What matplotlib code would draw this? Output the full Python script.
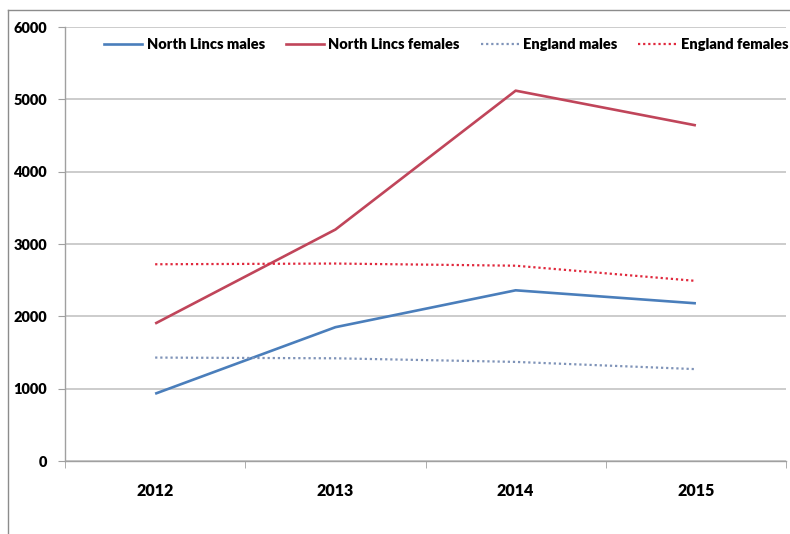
import matplotlib

matplotlib.use("Agg")
import matplotlib.pyplot as plt
from matplotlib.lines import Line2D

# Data
years = ["2012", "2013", "2014", "2015"]
nl_males = [930, 1850, 2360, 2180]
nl_females = [1900, 3200, 5120, 4640]
eng_males = [1430, 1420, 1370, 1270]
eng_females = [2720, 2730, 2700, 2490]
y_ticks = [0, 1000, 2000, 3000, 4000, 5000, 6000]

plt.rcParams["font.family"] = ["Lato", "DejaVu Sans"]
plt.rcParams["font.weight"] = "heavy"

fig = plt.figure(figsize=(7.9, 5.34), dpi=100)
ax = fig.add_axes([0.0823, 0.1367, 0.9127, 0.8127])

x = range(len(years))
ax.plot(x, nl_males, color="#4A7EBB", linewidth=1.9, label="North Lincs males",
        solid_capstyle="butt")
ax.plot(x, nl_females, color="#C0455A", linewidth=1.9, label="North Lincs females",
        solid_capstyle="butt")
ax.plot(x, eng_males, color="#7F93B8", linewidth=1.6, linestyle=(0, (1, 1.3)),
        label="England males")
ax.plot(x, eng_females, color="#E0283C", linewidth=1.6, linestyle=(0, (1, 1.3)),
        label="England females")

ax.set_xlim(-0.5, 3.5)
ax.set_ylim(0, 6000)
ax.set_yticks(y_ticks)
ax.set_yticklabels([str(v) for v in y_ticks])
ax.set_xticks(list(x))
ax.set_xticklabels(years)
ax.set_xticks([i - 0.5 for i in range(len(years) + 1)], minor=True)

ax.grid(axis="y", color="#C4C4C4", linewidth=1.2)
ax.set_axisbelow(True)
for side in ["top", "right"]:
    ax.spines[side].set_visible(False)
for side in ["left", "bottom"]:
    ax.spines[side].set_color("#A0A0A0")
    ax.spines[side].set_linewidth(1.0)

ax.tick_params(axis="y", length=5, color="#A0A0A0", labelsize=10.5, pad=8)
ax.tick_params(axis="x", which="major", length=0, labelsize=11.5, pad=16)
ax.tick_params(axis="x", which="minor", length=5, color="#A0A0A0")

handles = [
    Line2D([], [], color="#4A7EBB", linewidth=1.9),
    Line2D([], [], color="#C0455A", linewidth=1.9),
    Line2D([], [], color="#7F93B8", linewidth=1.6, linestyle=(0, (1, 1.3))),
    Line2D([], [], color="#E0283C", linewidth=1.6, linestyle=(0, (1, 1.3))),
]
labels = ["North Lincs males", "North Lincs females", "England males", "England females"]
fig.legend(handles, labels, ncol=4, frameon=False, loc="center",
           bbox_to_anchor=(0.565, 0.916), fontsize=10.5, handlelength=2.6,
           handletextpad=0.3, columnspacing=1.45)

# outer chart border (cut off at right and bottom in the reference)
fig.add_artist(Line2D([0.010, 0.010], [0.0, 0.981], color="#8C8C8C", linewidth=1.0,
                      transform=fig.transFigure))
fig.add_artist(Line2D([0.010, 1.0], [0.981, 0.981], color="#8C8C8C", linewidth=1.0,
                      transform=fig.transFigure))

fig.savefig("out.png", dpi=100)
